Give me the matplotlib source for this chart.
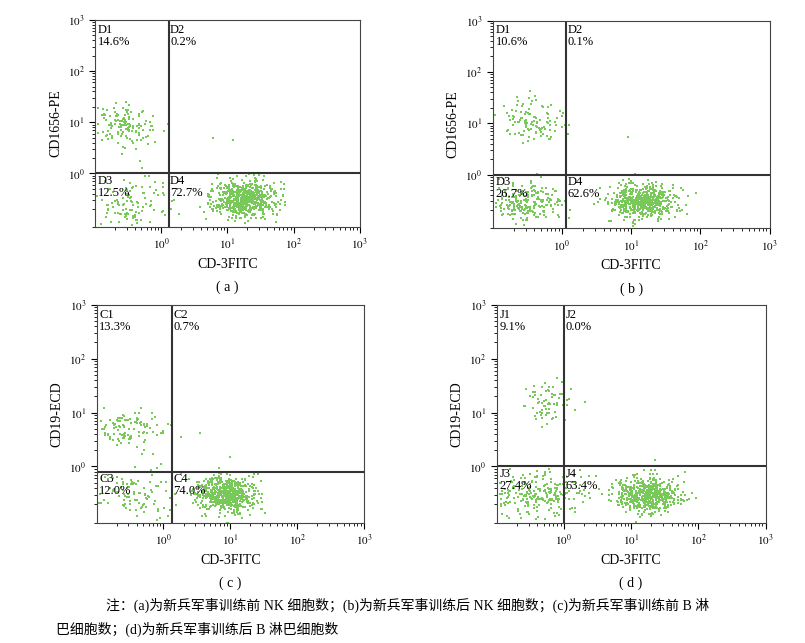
import numpy as np
import matplotlib
matplotlib.use('Agg')
import matplotlib.pyplot as plt

plt.rcParams['font.family'] = ['Liberation Serif', 'Noto Sans CJK SC']
plt.rcParams['mathtext.fontset'] = 'stix'

# Панелі: підписи квадрантів, відсотки, межі гейтів
panel_tags = ['(a)', '(b)', '(c)', '(d)']
quad_names = [['D1', 'D2', 'D3', 'D4'], ['D1', 'D2', 'D3', 'D4'],
              ['C1', 'C2', 'C3', 'C4'], ['J1', 'J2', 'J3', 'J4']]
quad_pcts = [['14.6%', '0.2%', '12.5%', '72.7%'],
             ['10.6%', '0.1%', '26.7%', '62.6%'],
             ['13.3%', '0.7%', '12.0%', '74.0%'],
             ['9.1%', '0.0%', '27.4%', '63.4%']]
y_labels = ['CD1656-PE', 'CD1656-PE', 'CD19-ECD', 'CD19-ECD']
gate_x = [1.3, 1.15, 1.35, 1.0]
gate_y = [1.0, 1.0, 0.8, 1.0]

# Кластери: (центр x, центр y, розкид log x, розкид log y, кількість)
clusters = [
    [(0.3, 9, 0.28, 0.22, 140), (0.35, 0.3, 0.32, 0.25, 110), (18, 0.32, 0.24, 0.17, 650)],
    [(0.35, 11, 0.25, 0.22, 110), (0.3, 0.28, 0.25, 0.2, 220), (15, 0.3, 0.24, 0.17, 560)],
    [(0.3, 5, 0.25, 0.17, 110), (0.35, 0.3, 0.3, 0.22, 100), (9, 0.3, 0.22, 0.17, 620)],
    [(0.55, 17, 0.18, 0.2, 70), (0.4, 0.3, 0.36, 0.2, 240), (18, 0.3, 0.24, 0.17, 560)],
]
stray = [[(6, 5), (12, 4.5)], [(9, 5.5)], [(3.5, 4.2)], []]

rects = [[0.118, 0.647, 0.329, 0.322], [0.612, 0.645, 0.344, 0.323],
         [0.120, 0.187, 0.332, 0.339], [0.617, 0.187, 0.334, 0.339]]
tag_y = [-0.26, -0.26, -0.245, -0.245]

fig = plt.figure(figsize=(8.05, 6.43), dpi=100)
rng = np.random.default_rng(7)
dot_color = '#78c85a'

for i in range(4):
    ax = fig.add_axes(rects[i])
    ax.set_xscale('log')
    ax.set_yscale('log')
    ax.set_xlim(0.1, 1000)
    ax.set_ylim(0.09, 1000)
    for cx, cy, sx, sy, n in clusters[i]:
        xs = 10 ** rng.normal(np.log10(cx), sx, n)
        ys = 10 ** rng.normal(np.log10(cy), sy, n)
        ax.scatter(xs, ys, s=1.0, c=dot_color, marker='s', linewidths=0)
    for sx_, sy_ in stray[i]:
        ax.scatter([sx_], [sy_], s=1.0, c=dot_color, marker='s', linewidths=0)
    ax.axvline(gate_x[i], color='#333333', lw=1.5)
    ax.axhline(gate_y[i], color='#333333', lw=1.5)
    for sp in ax.spines.values():
        sp.set_color('#444444')
    ax.tick_params(which='major', labelsize=8, length=4, direction='out')
    ax.tick_params(which='minor', length=2, direction='out')
    ax.set_xticks([1, 10, 100, 1000])
    ax.set_yticks([1, 10, 100, 1000])
    ax.set_xticklabels([r'$10^0$', r'$10^1$', r'$10^2$', r'$10^3$'])
    ax.set_yticklabels([r'$10^0$', r'$10^1$', r'$10^2$', r'$10^3$'])
    ax.set_xlabel('CD-3FITC', fontsize=10)
    ax.set_ylabel(y_labels[i], fontsize=10)
    names, pcts = quad_names[i], quad_pcts[i]
    pos = [(0.11, 850), (gate_x[i] * 1.05, 850), (0.11, gate_y[i] * 0.93), (gate_x[i] * 1.05, gate_y[i] * 0.93)]
    for k in range(4):
        ax.text(pos[k][0], pos[k][1], names[k] + '\n' + pcts[k], fontsize=9,
                va='top', ha='left', linespacing=1.0)
    ax.text(0.5, tag_y[i], '( ' + panel_tags[i][1] + ' )', transform=ax.transAxes,
            ha='center', va='top', fontsize=10)

fig.text(0.132, 0.052, '注：(a)为新兵军事训练前 NK 细胞数；(b)为新兵军事训练后 NK 细胞数；(c)为新兵军事训练前 B 淋',
         fontsize=10, ha='left')
fig.text(0.07, 0.015, '巴细胞数；(d)为新兵军事训练后 B 淋巴细胞数', fontsize=10, ha='left')

fig.savefig('out.png', dpi=100)
